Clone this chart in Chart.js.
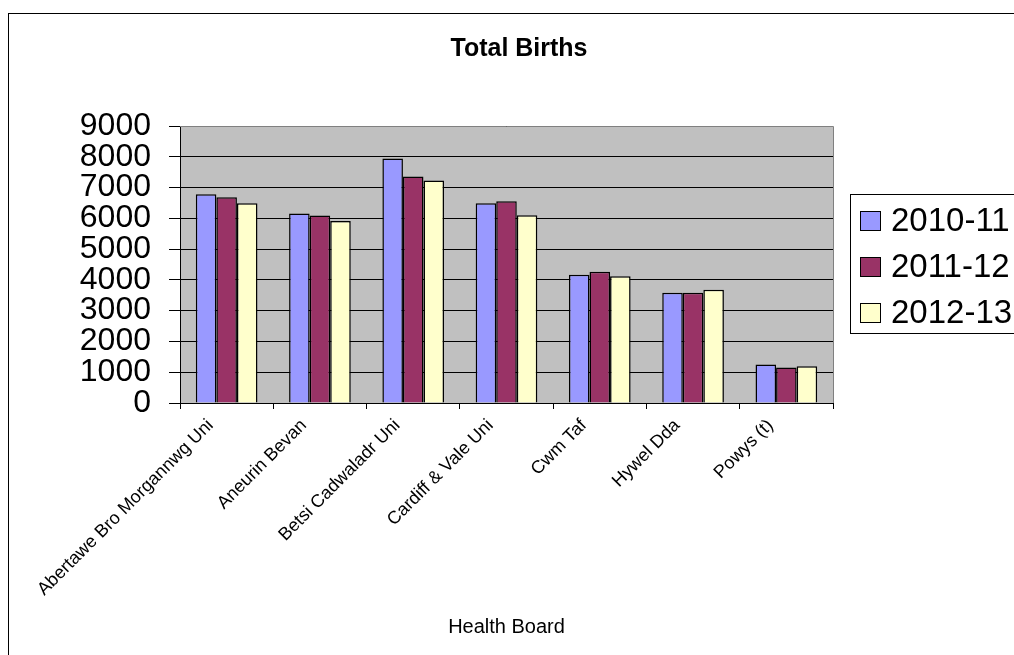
<!DOCTYPE html>
<html>
<head>
<meta charset="utf-8">
<script src="https://cdn.jsdelivr.net/npm/chart.js@4.4.1/dist/chart.umd.min.js"></script>
<style>
  html, body { margin: 0; padding: 0; background: #fff; overflow: hidden; }
  #wrap { position: relative; width: 1014px; height: 655px; }
</style>
</head>
<body>
<div id="wrap"><canvas id="c" width="1014" height="655"></canvas></div>
<script>
const chartTitle = "Total Births";
const xAxisTitle = "Health Board";
const categories = ["Abertawe Bro Morgannwg Uni", "Aneurin Bevan", "Betsi Cadwaladr Uni", "Cardiff & Vale Uni", "Cwm Taf", "Hywel Dda", "Powys (t)"];
const seriesNames = ["2010-11", "2011-12", "2012-13"];
const births2010_11 = [6786, 6156, 7948, 6493, 4169, 3583, 1249];
const births2011_12 = [6688, 6091, 7362, 6558, 4267, 3583, 1151];
const births2012_13 = [6493, 5917, 7231, 6102, 4115, 3681, 1194];
const yTicks = [0, 1000, 2000, 3000, 4000, 5000, 6000, 7000, 8000, 9000];

const seriesColors = ["#9999FF", "#993366", "#FFFFCC"];
const FONT = "'Liberation Sans', Arial, sans-serif";

Chart.defaults.color = "#000";
Chart.defaults.font.family = FONT;

const decorPlugin = {
  id: "decor",
  beforeDraw(chart) {
    const { ctx, chartArea: a } = chart;
    ctx.save();
    ctx.fillStyle = "#fff";
    ctx.fillRect(0, 0, chart.width, chart.height);
    ctx.fillStyle = "#C0C0C0";
    ctx.fillRect(a.left, a.top, a.right - a.left, a.bottom - a.top);
    ctx.restore();
  },
  afterDraw(chart) {
    const { ctx, chartArea: a } = chart;
    ctx.save();
    ctx.strokeStyle = "#808080";
    ctx.lineWidth = 1;
    ctx.beginPath();
    ctx.moveTo(a.left, a.top + 0.5);
    ctx.lineTo(a.right + 0.5, a.top + 0.5);
    ctx.lineTo(a.right + 0.5, a.bottom);
    ctx.stroke();
    ctx.strokeStyle = "#000";
    ctx.strokeRect(8.5, 13.5, 1100, 700);
    ctx.fillStyle = "#000";
    ctx.font = "bold 25px " + FONT;
    ctx.textAlign = "center";
    ctx.textBaseline = "middle";
    ctx.fillText(chartTitle, 519, 49);
    const lx = 850.5, ly = 194.5;
    ctx.strokeStyle = "#000";
    ctx.strokeRect(lx, ly, 300, 139);
    ctx.font = "33px " + FONT;
    ctx.textAlign = "left";
    chart.data.datasets.forEach((ds, i) => {
      const cy = 221 + i * 46;
      ctx.fillStyle = ds.backgroundColor;
      ctx.fillRect(860.5, cy - 9.5, 20, 19);
      ctx.strokeStyle = "#000";
      ctx.strokeRect(860.5, cy - 9.5, 20, 19);
      ctx.fillStyle = "#000";
      ctx.fillText(ds.label, 891, cy + 1);
    });
    ctx.restore();
  }
};

const seriesData = [births2010_11, births2011_12, births2012_13];

new Chart(document.getElementById("c"), {
  type: "bar",
  data: {
    labels: categories,
    datasets: seriesNames.map((name, i) => ({
      label: name,
      data: seriesData[i],
      backgroundColor: seriesColors[i],
      borderColor: "#000",
      borderWidth: 1.5,
      categoryPercentage: 0.661,
      barPercentage: 1.0
    }))
  },
  options: {
    responsive: false,
    animation: false,
    devicePixelRatio: 1,
    layout: { padding: { top: 126, left: 0, right: 181, bottom: 0 } },
    plugins: {
      legend: { display: false },
      title: { display: false },
      tooltip: { enabled: false }
    },
    scales: {
      x: {
        grid: {
          offset: true,
          drawOnChartArea: false,
          drawTicks: true,
          tickLength: 6,
          color: "#000"
        },
        border: { color: "#000", width: 1 },
        ticks: {
          font: { size: 18, family: FONT },
          color: "#000",
          minRotation: 45,
          maxRotation: 45,
          autoSkip: false,
          padding: 6,
          labelOffset: -16
        },
        title: {
          display: true,
          text: xAxisTitle,
          font: { size: 20, family: FONT },
          color: "#000",
          padding: { top: 4, bottom: 16 }
        },
        afterFit(scale) { scale.height = 252; }
      },
      y: {
        min: 0,
        max: 9000,
        afterBuildTicks(scale) { scale.ticks = yTicks.map(v => ({ value: v })); },
        grid: {
          color: "#000",
          lineWidth: 1,
          drawTicks: true,
          tickLength: 11
        },
        border: { color: "#000", width: 1 },
        ticks: {
          font: { size: 32, family: FONT, lineHeight: 1 },
          color: "#000",
          autoSkip: false,
          padding: 18,
          callback: (v) => String(v)
        },
        afterFit(scale) { scale.width = 180; }
      }
    }
  },
  plugins: [decorPlugin]
});
</script>
</body>
</html>
